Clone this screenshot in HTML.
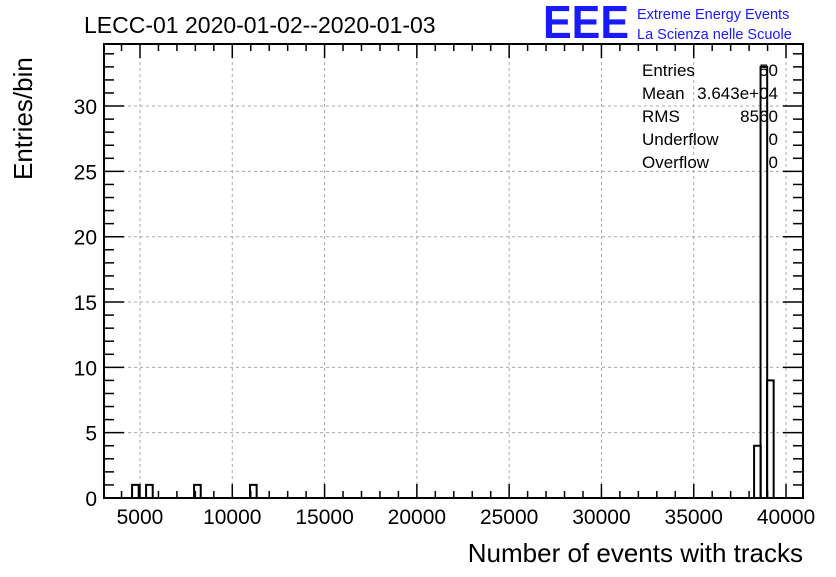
<!DOCTYPE html>
<html><head><meta charset="utf-8"><style>
body{margin:0;background:#fff;}
svg text{font-family:"Liberation Sans",sans-serif;}
</style></head><body>
<svg id="c" width="836" height="572" xmlns="http://www.w3.org/2000/svg">
<rect width="836" height="572" fill="#fff"/>
<text x="84" y="33" font-size="23">LECC-01 2020-01-02--2020-01-03</text>
<g>
<text x="543" y="38" font-size="46" fill="#1a1aff" font-weight="bold" textLength="86" lengthAdjust="spacingAndGlyphs">EEE</text>
<text x="637" y="19" font-size="14.5" fill="#1a1aff">Extreme Energy Events</text>
<text x="637" y="39" font-size="14.5" fill="#1a1aff">La Scienza nelle Scuole</text>
</g>
<g id="grid"></g>
<g id="hist"></g>
<g id="axes"></g>
<g font-size="17">
<text x="642" y="76">Entries</text><text x="778" y="76" text-anchor="end">50</text>
<text x="642" y="99">Mean</text><text x="778" y="99" text-anchor="end">3.643e+04</text>
<text x="642" y="122">RMS</text><text x="778" y="122" text-anchor="end">8560</text>
<text x="642" y="145">Underflow</text><text x="778" y="145" text-anchor="end">0</text>
<text x="642" y="168">Overflow</text><text x="778" y="168" text-anchor="end">0</text>
</g>
<text x="803" y="562" font-size="26" text-anchor="end">Number of events with tracks</text>
<text transform="translate(32,180) rotate(-90)" font-size="26">Entries/bin</text>
</svg>
<script>
const binStarts=[4570,5330,7930,10960,38270,38620,38970];
const binCounts=[1,1,1,1,4,33,9];
const binWidth=360;
const xTicks=[5000,10000,15000,20000,25000,30000,35000,40000];
const yTicks=[0,5,10,15,20,25,30];
const L=104,R=803,T=44,B=498;
const xMin=3050,xMax=40920,yMax=34.75;
const X=v=>L+(v-xMin)/(xMax-xMin)*(R-L);
const Y=v=>B-v/yMax*(B-T);
const NS="http://www.w3.org/2000/svg";
function mk(tag,attrs,parent){const e=document.createElementNS(NS,tag);for(const k in attrs)e.setAttribute(k,attrs[k]);parent.appendChild(e);return e;}
const grid=document.getElementById('grid'),hist=document.getElementById('hist'),axes=document.getElementById('axes');
xTicks.forEach(t=>{const l=mk('line',{x1:X(t),x2:X(t),y1:T,y2:B,stroke:'#aaa','stroke-dasharray':'3,3'},grid);

});
yTicks.forEach(t=>{if(t===0)return;const l=mk('line',{x1:L,x2:R,y1:Y(t),y2:Y(t),stroke:'#aaa','stroke-dasharray':'3,3'},grid);

});
binStarts.forEach((s,i)=>{const x0=X(s),x1=X(s+binWidth),y=Y(binCounts[i]);
const p=mk('path',{d:`M${x0},${B}V${y}H${x1}V${B}`,fill:'none',stroke:'#000','stroke-width':2},hist);

});
const fr=mk('rect',{x:L,y:T,width:R-L,height:B-T,fill:'none',stroke:'#000','stroke-width':2},axes);


for(let v=4000;v<=40000;v+=1000){const maj=v%5000===0,len=maj?14:7;
mk('line',{x1:X(v),x2:X(v),y1:B,y2:B-len,stroke:'#000','stroke-width':1.5},axes);
mk('line',{x1:X(v),x2:X(v),y1:T,y2:T+len,stroke:'#000','stroke-width':1.5},axes);}
for(let v=1;v<=34;v++){const maj=v%5===0,len=maj?20:10;
mk('line',{x1:L,x2:L+len,y1:Y(v),y2:Y(v),stroke:'#000','stroke-width':1.5},axes);
mk('line',{x1:R,x2:R-len,y1:Y(v),y2:Y(v),stroke:'#000','stroke-width':1.5},axes);}
xTicks.forEach(t=>{const tx=mk('text',{x:X(t),y:524,'font-size':21,'text-anchor':'middle'},axes);tx.textContent=t;

});
yTicks.forEach(t=>{const tx=mk('text',{x:97,y:Y(t)+8,'font-size':21,'text-anchor':'end'},axes);tx.textContent=t;

});
</script>
</body></html>
